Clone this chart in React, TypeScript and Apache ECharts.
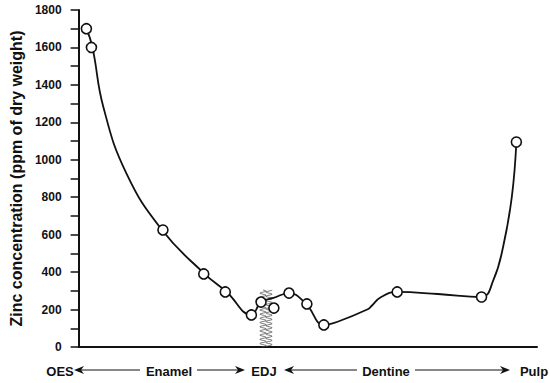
import React, { useEffect, useRef } from "react";
import * as echarts from "echarts";

// Measured sample positions (0 = OES, 100 = end of axis) and zinc values
const pointPos = [1.7, 2.8, 18.4, 27.3, 32.0, 37.7, 39.8, 42.6, 45.9, 49.8, 53.5, 69.5, 87.9, 95.5];
const pointZinc = [1700, 1600, 625, 390, 294, 171, 240, 208, 288, 230, 118, 294, 267, 1095];

// Fitted curve
const curvePos = [1.7, 3.0, 5.4, 10.4, 18.2, 27.3, 32.3, 37.7, 39.8, 42.5, 45.9, 49.6, 53.5, 56.5, 63.2, 63.9, 66.0, 69.5, 78.4, 87.9, 90.5, 92.6, 94.5, 95.5];
const curveZinc = [1700, 1603, 1282, 929, 625, 395, 294, 171, 240, 262, 288, 230, 118, 135, 203, 219, 267, 294, 283, 267, 358, 534, 800, 1095];

const regionLabels = ["OES", "Enamel", "EDJ", "Dentine", "Pulp"];
const yAxisTitle = "Zinc concentration (ppm of dry weight)";
const yMin = 0;
const yMax = 1800;
const yTickStep = 100;

export default function App() {
  const ref = useRef<HTMLDivElement>(null);
  useEffect(() => {
    if (!ref.current) return;
    const chart = echarts.init(ref.current, null, { renderer: "svg" });
    const font = "'Liberation Sans', Arial, sans-serif";

    const labelY = 371;
    const labelXs = [60, 169, 264, 386, 534];
    const arrowY = 370;
    const arrows = [
      { tail: 140, tip: 74 },
      { tail: 197, tip: 245 },
      { tail: 357, tip: 284 },
      { tail: 415, tip: 510 },
    ];

    const graphics: any[] = [];
    regionLabels.forEach((t, i) => {
      graphics.push({
        type: "text",
        x: labelXs[i],
        y: labelY,
        style: {
          text: t,
          fill: "#111",
          font: `bold 13px ${font}`,
          textAlign: "center",
          textVerticalAlign: "middle",
        },
      });
    });
    arrows.forEach((a) => {
      const dir = a.tip > a.tail ? 1 : -1;
      graphics.push({
        type: "line",
        shape: { x1: a.tail, y1: arrowY, x2: a.tip - dir * 6, y2: arrowY },
        style: { stroke: "#111", lineWidth: 1 },
      });
      graphics.push({
        type: "polygon",
        shape: {
          points: [
            [a.tip, arrowY],
            [a.tip - dir * 10, arrowY - 4],
            [a.tip - dir * 7, arrowY],
            [a.tip - dir * 10, arrowY + 4],
          ],
        },
        style: { fill: "#111" },
      });
    });

    // EDJ wavy marker
    const waveA: number[][] = [];
    const waveB: number[][] = [];
    for (let y = 290; y <= 347; y += 0.5) {
      const ph = ((y - 290) / 4.2) * 2 * Math.PI;
      waveA.push([263 + 3.2 * Math.sin(ph), y]);
      waveB.push([269 + 3.2 * Math.sin(ph + Math.PI / 2), y]);
    }
    graphics.push({
      type: "polyline",
      z: 1,
      shape: { points: waveA },
      style: { stroke: "#444", lineWidth: 0.7, fill: null },
    });
    graphics.push({
      type: "polyline",
      z: 1,
      shape: { points: waveB },
      style: { stroke: "#444", lineWidth: 0.7, fill: null },
    });

    chart.setOption({
      animation: false,
      backgroundColor: "#fff",
      grid: { left: 75, right: 13, top: 10, bottom: 36 },
      xAxis: {
        type: "value",
        min: 0,
        max: 100,
        axisLine: { show: true, lineStyle: { color: "#111", width: 2 } },
        axisTick: { show: false },
        axisLabel: { show: false },
        splitLine: { show: false },
      },
      yAxis: {
        type: "value",
        min: yMin,
        max: yMax,
        interval: yTickStep,
        name: yAxisTitle,
        nameLocation: "middle",
        nameGap: 52,
        nameTextStyle: { fontFamily: font, fontWeight: "bold", fontSize: 16, color: "#111" },
        axisLine: { show: true, lineStyle: { color: "#111", width: 2 } },
        axisTick: { show: true, length: 8, lineStyle: { color: "#111", width: 1.5 } },
        axisLabel: {
          margin: 17,
          fontFamily: font,
          fontWeight: "bold",
          fontSize: 12,
          color: "#111",
          formatter: (v: number) => (v % 200 === 0 ? String(v) : ""),
        },
        splitLine: { show: false },
      },
      series: [
        {
          type: "line",
          data: curvePos.map((x, i) => [x, curveZinc[i]]),
          smooth: 0.45,
          showSymbol: false,
          lineStyle: { color: "#111", width: 1.8 },
          z: 3,
        },
        {
          type: "scatter",
          data: pointPos.map((x, i) => [x, pointZinc[i]]),
          symbol: "circle",
          symbolSize: 10,
          itemStyle: { color: "#fff", borderColor: "#111", borderWidth: 1.6, opacity: 1 },
          z: 5,
        },
      ],
      graphic: graphics,
    });
    return () => chart.dispose();
  }, []);
  return (
    <div
      ref={ref}
      style={{ position: "fixed", left: 0, top: 0, width: 550, height: 383, background: "#fff" }}
    />
  );
}
